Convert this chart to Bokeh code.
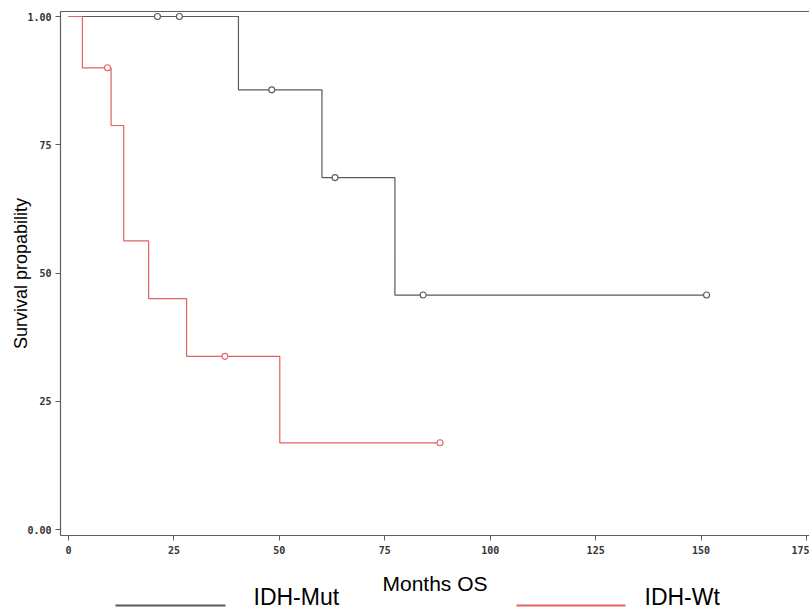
import numpy as np
from bokeh.plotting import figure
from bokeh.models import Range1d, FixedTicker, LinearAxis
from bokeh.core.properties import value
from bokeh.embed import file_html
from bokeh.resources import INLINE

# ---- data ----
groups = ["IDH-Mut", "IDH-Wt"]
mut_time = [0, 40.3, 60.1, 77.4, 151.3]
mut_surv = [1.0, 0.857, 0.686, 0.457, 0.457]
mut_censor = [21.1, 26.3, 48.2, 63.2, 84.1, 151.3]
wt_time = [0, 3.3, 10.1, 13.1, 19.0, 28.0, 50.1, 88.1]
wt_surv = [1.0, 0.9, 0.7875, 0.5625, 0.45, 0.3375, 0.169, 0.169]
wt_censor = [9.25, 37.1, 88.1]
x_ticks = [0, 25, 50, 75, 100, 125, 150, 175]
y_ticks = [0.0, 0.25, 0.5, 0.75, 1.0]
y_tick_labels = ["0.00", "25", "50", "75", "1.00"]

MUT_COLOR = "#5a5a5a"
WT_COLOR = "#e26262"
AXIS_COLOR = "#5e5e5e"

W, H = 809, 610
# pixel layout of the scales: x=0 at px 68, x=175 at px 806; y=1 at px 16, y=0 at px 529
KX = (806 - 68) / 175.0
KY = (529 - 16) / 1.0


def dx(px):
    return (px - 68) / KX


def dy(py):
    return (529 - py) / KY


def surv_at(times, surv, t):
    idx = np.searchsorted(np.array(times), np.array(t), side="right") - 1
    return list(np.array(surv)[idx])


p = figure(width=W, height=H, output_backend="svg", toolbar_location=None,
           x_range=Range1d(dx(0), dx(W)), y_range=Range1d(dy(H), dy(0)),
           x_axis_location=None, y_axis_location=None, min_border=0)
p.outline_line_color = None
p.grid.visible = False
p.background_fill_color = "white"
p.border_fill_color = "white"

x_left, x_right = dx(60), dx(W)
y_bottom, y_top = dy(535), dy(11)

xaxis = LinearAxis(fixed_location=y_bottom, bounds=(x_left, x_right),
                   ticker=FixedTicker(ticks=x_ticks), axis_label="Months OS")
yaxis = LinearAxis(fixed_location=x_left, bounds=(y_bottom, y_top),
                   ticker=FixedTicker(ticks=y_ticks), axis_label="Survival propability",
                   major_label_overrides={t: l for t, l in zip(y_ticks, y_tick_labels)})
topaxis = LinearAxis(fixed_location=y_top, bounds=(x_left, x_right),
                     ticker=FixedTicker(ticks=[]))
p.add_layout(xaxis, "below")
p.add_layout(yaxis, "left")
p.add_layout(topaxis, "above")

for ax in (xaxis, yaxis, topaxis):
    ax.axis_line_color = AXIS_COLOR
    ax.axis_line_width = 1.2
    ax.major_tick_line_color = AXIS_COLOR
    ax.major_tick_in = 0
    ax.major_tick_out = 5
    ax.minor_tick_line_color = None
    ax.major_label_text_font = "DejaVu Sans Mono"
    ax.major_label_text_font_style = "bold"
    ax.major_label_text_font_size = "10px"
    ax.major_label_text_color = "#333333"
    ax.axis_label_text_font = "Liberation Sans"
    ax.axis_label_text_font_style = "normal"
    ax.axis_label_text_color = "black"

topaxis.major_tick_line_color = None
xaxis.major_label_standoff = 5
xaxis.axis_label_text_font_size = "21px"
xaxis.axis_label_standoff = 15
yaxis.major_label_standoff = 4
yaxis.axis_label_text_font_size = "18px"
yaxis.axis_label_standoff = -7

# curves
p.step(mut_time, mut_surv, mode="after", line_color=MUT_COLOR, line_width=1.2)
p.step(wt_time, wt_surv, mode="after", line_color=WT_COLOR, line_width=1.2)
p.scatter(mut_censor, surv_at(mut_time, mut_surv, mut_censor), marker="circle", size=6,
          line_color=MUT_COLOR, fill_color="white", line_width=1.1)
p.scatter(wt_censor, surv_at(wt_time, wt_surv, wt_censor), marker="circle", size=6,
          line_color=WT_COLOR, fill_color="white", line_width=1.1)

# legend below the axis (positions in pixels, converted through the scales)
legend_colors = [MUT_COLOR, WT_COLOR]
legend_line_px = [(115, 225), (516, 625)]
legend_text_px = [253, 644]
line_py, text_py = 605, 596
for name, col, (xs, xe), tx in zip(groups, legend_colors, legend_line_px, legend_text_px):
    p.line([dx(xs), dx(xe)], [dy(line_py), dy(line_py)], line_color=col, line_width=2.2)
    p.text([dx(tx)], [dy(text_py)], text=[name], text_align="left", text_baseline="alphabetic",
           text_font=value("Liberation Sans"), text_font_size=value("23px"), text_color="black")

open("out.html", "w").write(file_html(p, INLINE))
